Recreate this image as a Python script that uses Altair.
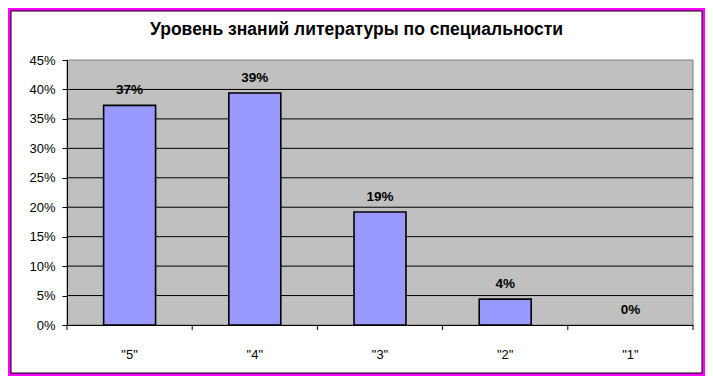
import altair as alt
import pandas as pd

categories = ['"5"', '"4"', '"3"', '"2"', '"1"']
values = [0.373, 0.394, 0.192, 0.044, 0.0]
labels = ["37%", "39%", "19%", "4%", "0%"]
grid_values = [0.05, 0.10, 0.15, 0.20, 0.25, 0.30, 0.35, 0.40]
y_ticks = [0, 0.05, 0.1, 0.15, 0.2, 0.25, 0.3, 0.35, 0.4, 0.45]
title_text = "Уровень знаний литературы по специальности"

FONT = "Liberation Sans"
W, H = 626, 265

df = pd.DataFrame({"cat": categories, "val": values, "label": labels})
one = pd.DataFrame({"t": [title_text]})

xscale = alt.Scale(domain=categories, paddingInner=0, paddingOuter=0)
yscale = alt.Scale(domain=[0, 0.45], nice=False)

xaxis = alt.Axis(labelAngle=0, ticks=False, domain=True, domainColor="black",
                 labelFont=FONT, labelFontSize=13, labelColor="black",
                 labelPadding=23, zindex=1, title=None)
yaxis = alt.Axis(format=".0%", values=y_ticks, grid=False, domainColor="black",
                 tickColor="black", tickSize=5, labelFont=FONT, labelFontSize=13,
                 labelColor="black", labelPadding=7, zindex=1, title=None)

def X(**kw):
    return alt.X("cat:N", scale=xscale, sort=categories, axis=xaxis, title=None, **kw)

frame = alt.Chart(one).mark_rect(fill="white", stroke="black", strokeWidth=1).encode(
    x=alt.value(-56), x2=alt.value(635), y=alt.value(-49), y2=alt.value(313)
)
plotbg = alt.Chart(one).mark_rect(fill="#C0C0C0", stroke="#808080", strokeWidth=1).encode(
    x=alt.value(0), x2=alt.value(W), y=alt.value(0), y2=alt.value(H)
)
title = alt.Chart(one).mark_text(
    font=FONT, fontSize=17.5, fontWeight="bold", color="black", baseline="middle", align="center"
).encode(x=alt.value(289.5), y=alt.value(-30), text="t:N")

grid = alt.Chart(pd.DataFrame({"val": grid_values})).mark_rule(color="black", strokeWidth=1).encode(
    y=alt.Y("val:Q", scale=yscale, axis=yaxis, title=None), x=alt.value(0), x2=alt.value(W)
)

bars = alt.Chart(df).mark_bar(
    color="#9999FF", stroke="black", strokeWidth=1.6, width=alt.RelativeBandSize(0.415)
).encode(
    x=X(),
    y=alt.Y("val:Q", scale=yscale, axis=yaxis, title=None),
    strokeOpacity=alt.condition(alt.datum.val > 0, alt.value(1), alt.value(0)),
)

text = alt.Chart(df).mark_text(
    font=FONT, fontSize=13.5, fontWeight="bold", color="black", baseline="bottom", dy=-8
).encode(
    x=X(),
    y=alt.Y("val:Q", scale=yscale, axis=yaxis, title=None),
    text="label:N",
)

xticks = alt.Chart(df).mark_rule(color="black", strokeWidth=1).encode(
    x=X(bandPosition=0),
    y=alt.value(H), y2=alt.value(H + 5),
)
xticks_end = alt.Chart(df).transform_filter(
    alt.datum.cat == categories[-1]
).mark_rule(color="black", strokeWidth=1).encode(
    x=X(bandPosition=1),
    y=alt.value(H), y2=alt.value(H + 5),
)

chart = alt.layer(frame, plotbg, title, grid, bars, text, xticks, xticks_end).properties(
    width=W, height=H,
    autosize=alt.AutoSizeParams(type="none"),
    padding={"left": 59, "top": 52, "right": 12, "bottom": 51},
    background="#FF00FF",
).configure_view(stroke=None)

chart.save("out.html", embed_options={"renderer": "svg", "actions": False})
